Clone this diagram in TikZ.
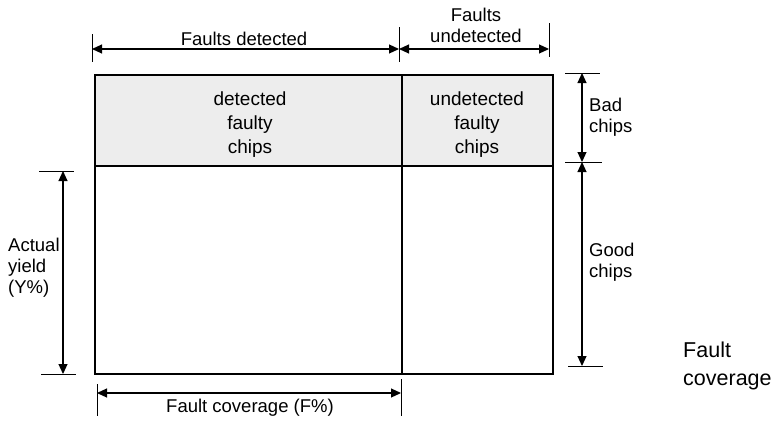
\documentclass[tikz,border=0pt]{standalone}
\usepackage{fontspec}
\setmainfont{Liberation Sans}
\usetikzlibrary{positioning, arrows.meta}

\begin{document}
\begin{tikzpicture}[x=1pt,y=-1pt]
  \tikzset{dim/.style={{Triangle[length=10pt,width=9pt]}-{Triangle[length=10pt,width=9pt]},line width=1.1pt},
    tick/.style={line width=0.9pt},
    lbl/.style={font=\fontsize{18.5}{21}\selectfont,align=center,inner sep=0},
    side/.style={lbl,align=left,anchor=west}}
  \useasboundingbox (0,0) rectangle (774,423);
  % the chip table
  \coordinate (nw) at (95,75);
  \coordinate (ne) at (553,75);
  \coordinate (sw) at (95,374);
  \coordinate (se) at (553,374);
  \coordinate (mt) at (402,75);
  \coordinate (mb) at (402,374);
  \coordinate (ml) at (95,166);
  \coordinate (mr) at (553,166);
  \fill[gray!14] (nw) rectangle (mr);
  \draw[line width=1.8pt] (nw) rectangle (se);
  \draw[line width=1.4pt] (ml) -- (mr);
  \draw[line width=1.4pt] (mt) -- (mb);
  \node[lbl,font=\fontsize{19}{24}\selectfont] (det) at (250,125) {detected\\faulty\\chips};
  \node[lbl,font=\fontsize{19}{24}\selectfont] (undet) at (477,125) {undetected\\faulty\\chips};
  % top dimensions
  \coordinate (t1) at (92,49);
  \coordinate (t2) at (399,49);
  \coordinate (t3) at (549,49);
  \draw[tick] (92,34) -- (92,62);
  \draw[tick] (399,27) -- (399,62);
  \draw[tick] (549,23) -- (549,57);
  \draw[dim] (t1) -- (t2);
  \draw[dim] (t2) -- (t3);
  \node[lbl] (fdet) at (244,39) {Faults detected};
  \node[lbl] (fund) at (476,25) {Faults\\undetected};
  % right dimensions
  \coordinate (r1) at (582,73);
  \coordinate (r2) at (582,162);
  \coordinate (r3) at (582,366);
  \draw[tick] (565,73) -- (600,73);
  \draw[tick] (565,162) -- (602,162);
  \draw[tick] (568,366) -- (603,366);
  \draw[dim] (r1) -- (r2);
  \draw[dim] (r2) -- (r3);
  \node[side] (bad) at (589,117) {Bad\\chips};
  \node[side] (good) at (589,262) {Good\\chips};
  % left dimension
  \coordinate (l1) at (63,171);
  \coordinate (l2) at (63,374);
  \draw[tick] (39,171) -- (74,171);
  \draw[tick] (41,374) -- (76,374);
  \draw[dim] (l1) -- (l2);
  \node[side] (yield) at (8,268) {Actual\\yield\\(Y\%)};
  % bottom dimension
  \coordinate (b1) at (97,393);
  \coordinate (b2) at (401,393);
  \draw[tick] (97,384) -- (97,416);
  \draw[tick] (401,379) -- (401,416);
  \draw[dim] (b1) -- (b2);
  \node[lbl] (fcov) at (250,408) {Fault coverage (F\%)};
  % axis title on the right
  \node[side,font=\fontsize{21.5}{28}\selectfont] (axis) at (683,366) {Fault\\coverage};
\end{tikzpicture}
\end{document}
